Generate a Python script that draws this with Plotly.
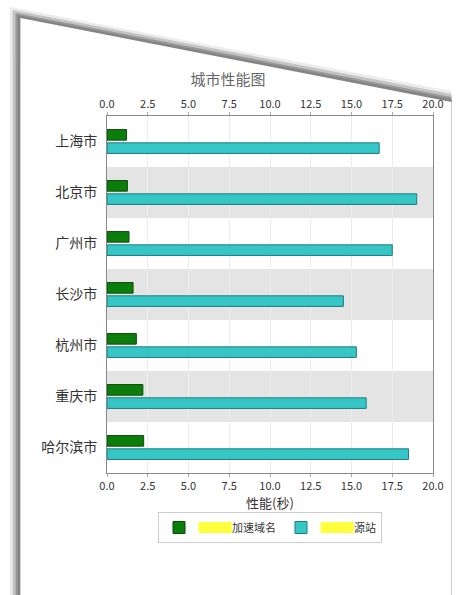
import plotly.graph_objects as go

# City performance data (seconds)
cities = ["上海市", "北京市", "广州市", "长沙市", "杭州市", "重庆市", "哈尔滨市"]
accel_times = [1.2, 1.25, 1.35, 1.6, 1.8, 2.2, 2.25]      # 加速域名
origin_times = [16.7, 19.0, 17.5, 14.5, 15.3, 15.9, 18.5]  # 源站
tick_vals = [0, 2.5, 5, 7.5, 10, 12.5, 15, 17.5, 20]
tick_text = ["0.0", "2.5", "5.0", "7.5", "10.0", "12.5", "15.0", "17.5", "20.0"]

W, H = 456, 595
ML, MR, MT, MB = 107, 14, 116, 122
FONT = "Noto Sans CJK SC"


def to_paper(x, y):
    return ((x - ML) / (W - ML - MR), 1 - (y - MT) / (H - MT - MB))


def poly(points):
    pts = [to_paper(x, y) for x, y in points]
    return "M " + " L ".join(f"{px:.4f},{py:.4f}" for px, py in pts) + " Z"


redact = '<span style="color:#ffff3a">███</span>'

fig = go.Figure()
fig.add_trace(go.Bar(
    y=cities, x=accel_times, orientation="h", name=redact + "加速域名",
    marker=dict(color="#0b7d0b", line=dict(color="#0a4d0a", width=1)),
))
fig.add_trace(go.Bar(
    y=cities, x=origin_times, orientation="h", name=redact + "源站",
    marker=dict(color="#37c6c6", line=dict(color="#1c7c80", width=1)),
))
# carrier trace so the top axis is drawn
fig.add_trace(go.Scatter(x=[None], y=[None], xaxis="x2", showlegend=False,
                         hoverinfo="skip"))

shapes = []
# card shadow and card face
for off, col in [(11, "#ececec"), (8, "#c4c4c4"), (5, "#9a9a9a"), (3, "#858585")]:
    shapes.append(dict(type="path", xref="paper", yref="paper", layer="below",
                       path=poly([(18 - off, 18 - off), (W + 5, 102 - off),
                                  (W + 5, H + 5), (18 - off, H + 5)]),
                       fillcolor=col, line=dict(width=0)))
shapes.append(dict(type="path", xref="paper", yref="paper", layer="below",
                   path=poly([(18, 18), (W + 5, 102), (W + 5, H + 5), (18, H + 5)]),
                   fillcolor="white", line=dict(width=0)))
# alternating row bands
for i in range(1, len(cities), 2):
    shapes.append(dict(type="rect", xref="paper", yref="y", layer="below",
                       x0=0, x1=1, y0=i - 0.5, y1=i + 0.5,
                       fillcolor="#e4e4e4", line=dict(width=0)))

axis_common = dict(range=[0, 20], tickvals=tick_vals, ticktext=tick_text,
                   tickfont=dict(family=FONT, size=11, color="#333"),
                   showline=True, linecolor="#888", linewidth=1,
                   ticks="outside", ticklen=3, tickcolor="#aaa")

fig.update_layout(
    width=W, height=H,
    margin=dict(l=ML, r=MR, t=MT, b=MB),
    paper_bgcolor="white", plot_bgcolor="rgba(0,0,0,0)",
    barmode="group", bargap=0.48, bargroupgap=0.2,
    title=dict(text="城市性能图", x=0.5, xanchor="center", y=1 - 74 / H,
               font=dict(family=FONT, size=15, color="#666")),
    xaxis=dict(**axis_common, showgrid=True, gridcolor="#ececec", zeroline=False,
               title=dict(text="性能(秒)", standoff=4,
                          font=dict(family=FONT, size=13, color="#333"))),
    xaxis2=dict(**axis_common, overlaying="x", side="top", anchor="y",
                showgrid=False, zeroline=False),
    yaxis=dict(autorange="reversed", showline=True, linecolor="#888", mirror=True,
               ticks="", ticklabelstandoff=6,
               tickfont=dict(family=FONT, size=14, color="#333")),
    legend=dict(orientation="h", x=0.5, xanchor="center", y=to_paper(0, 512)[1],
                yanchor="top", bordercolor="#cccccc", borderwidth=1,
                bgcolor="white", font=dict(family=FONT, size=11, color="#333"),
                itemwidth=30),
    shapes=shapes,
    showlegend=True,
)

fig.write_html("out.html")
